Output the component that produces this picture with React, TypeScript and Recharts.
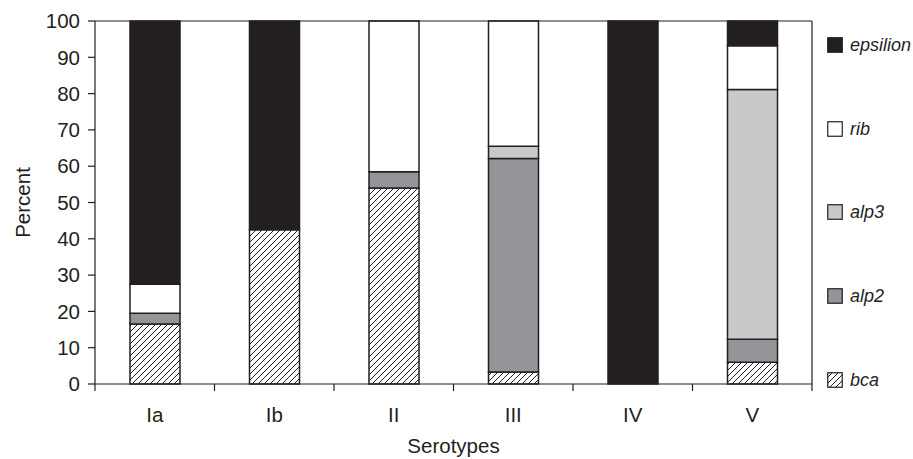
import React from 'react';
import { BarChart, Bar, XAxis, YAxis, Legend, ReferenceLine } from 'recharts';

const categories = ['Ia', 'Ib', 'II', 'III', 'IV', 'V'];
const bca = [16.5, 42.5, 54, 3.3, 0, 6];
const alp2 = [3, 0, 4.5, 58.8, 0, 6.3];
const alp3 = [0, 0, 0, 3.4, 0, 68.8];
const rib = [8, 0, 41.5, 34.5, 0, 12.1];
const epsilon = [72.5, 57.5, 0, 0, 100, 6.8];
const yTicks = [0, 10, 20, 30, 40, 50, 60, 70, 80, 90, 100];

const data = categories.map((c, i) => ({
  name: c,
  bca: bca[i],
  alp2: alp2[i],
  alp3: alp3[i],
  rib: rib[i],
  epsilon: epsilon[i],
}));

const INK = '#231f20';
const FONT = '"Liberation Sans", Arial, Helvetica, sans-serif';
const FS = 20.5;

const series = [
  { key: 'epsilon', label: 'epsilion', fill: INK },
  { key: 'rib', label: 'rib', fill: '#ffffff' },
  { key: 'alp3', label: 'alp3', fill: '#c8c9cb' },
  { key: 'alp2', label: 'alp2', fill: '#939598' },
  { key: 'bca', label: 'bca', fill: 'url(#hatch)' },
];

const CategoryTick = (props: any) => {
  const { x, y, payload, index } = props;
  const off = payload && payload.offset ? payload.offset : 0;
  const last = index === categories.length - 1;
  return (
    <g>
      <line x1={x - off} x2={x - off} y1={y} y2={y + 7} stroke={INK} strokeWidth={1.2} />
      {last ? <line x1={x + off} x2={x + off} y1={y} y2={y + 7} stroke={INK} strokeWidth={1.2} /> : null}
      <text x={x} y={y + 23} dy="0.71em" textAnchor="middle" fill={INK} fontSize={FS} fontFamily={FONT}>
        {payload.value}
      </text>
    </g>
  );
};

const LegendContent = () => (
  <div style={{ position: 'relative', fontFamily: FONT, fontSize: 18, fontStyle: 'italic', color: INK }}>
    {series.map((s, i) => (
      <div key={s.key} style={{ position: 'absolute', left: 0, top: i * 83.7, display: 'flex', alignItems: 'center', whiteSpace: 'nowrap', height: 16 }}>
        <svg width={16} height={16} style={{ display: 'block' }}>
          <rect x={0.75} y={0.75} width={14.5} height={14.5} fill={s.fill} stroke={INK} strokeWidth={1.2} />
        </svg>
        <span style={{ marginLeft: 7, lineHeight: '16px' }}>{s.label}</span>
      </div>
    ))}
  </div>
);

export default function App() {
  return (
    <div style={{ position: 'absolute', left: 0, top: 0, background: '#fff' }}>
      <BarChart
        width={913}
        height={459}
        data={data}
        margin={{ top: 21, right: 100, bottom: 0, left: 0 }}
        barCategoryGap={0}
        barSize={50}
      >
        <defs>
          <pattern id="hatch" patternUnits="userSpaceOnUse" width={6} height={6}>
            <rect x={0} y={0} width={6} height={6} fill="#ffffff" />
            <path d="M0,6 L6,0 M-1,1 L1,-1 M5,7 L7,5" stroke={INK} strokeWidth={1} />
          </pattern>
        </defs>
        <XAxis
          dataKey="name"
          tickLine={false}
          tickSize={0}
          tickMargin={0}
          interval={0}
          axisLine={{ stroke: INK, strokeWidth: 1.2 }}
          tick={<CategoryTick />}
          height={75}
          label={{ value: 'Serotypes', position: 'insideBottom', offset: 6, fill: INK, fontSize: FS, fontFamily: FONT }}
        />
        <YAxis
          domain={[0, 100]}
          ticks={yTicks}
          interval={0}
          width={95}
          tickSize={7}
          tickMargin={8}
          tickLine={{ stroke: INK, strokeWidth: 1.2 }}
          axisLine={{ stroke: INK, strokeWidth: 1.2 }}
          tick={{ fill: INK, fontSize: FS, fontFamily: FONT }}
          label={{ value: 'Percent', angle: -90, position: 'center', dx: -25, fill: INK, fontSize: FS, fontFamily: FONT }}
        />
        <YAxis
          yAxisId="r"
          orientation="right"
          domain={[0, 100]}
          tick={false}
          tickLine={false}
          width={1}
          axisLine={{ stroke: INK, strokeWidth: 1.2 }}
        />
        <ReferenceLine y={100} stroke={INK} strokeWidth={1.2} ifOverflow="visible" />
        {['bca', 'alp2', 'alp3', 'rib', 'epsilon'].map((k) => {
          const s = series.find((x) => x.key === k)!;
          return (
            <Bar
              key={k}
              dataKey={k}
              stackId="a"
              fill={s.fill}
              stroke={INK}
              strokeWidth={1.5}
              isAnimationActive={false}
            />
          );
        })}
        <Legend
          content={<LegendContent />}
          layout="vertical"
          align="right"
          verticalAlign="top"
          wrapperStyle={{ left: 827, top: 37, width: 0, height: 0, overflow: 'visible' }}
        />
      </BarChart>
    </div>
  );
}
